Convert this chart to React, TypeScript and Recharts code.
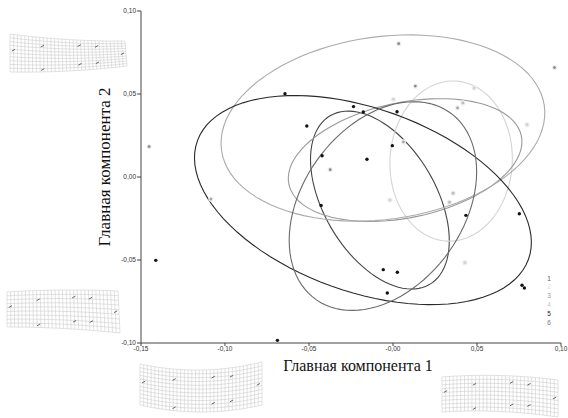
import React from 'react';
import { ScatterChart, Scatter, XAxis, YAxis, Customized } from 'recharts';

// ---- axes ----
const xTicks = [-0.15, -0.1, -0.05, 0, 0.05, 0.1];
const xTickLabels = ['-0,15', '-0,10', '-0,05', '-0,00', '0,05', '0,10'];
const yTicks = [0.1, 0.05, 0, -0.05, -0.1];
const yTickLabels = ['0,10', '0,05', '0,00', '-0,05', '-0,10'];
const xTitle = 'Главная компонента 1';
const yTitle = 'Главная компонента 2';

// ---- groups / legend ----
const groupNames = ['1', '2', '3', '4', '5', '6'];
const groupColors = ['#555555', '#dcdcdc', '#999999', '#c4c4c4', '#222222', '#777777'];

// ---- confidence ellipses (one per group) ----
const ellipseCx = [-0.0078, 0.0346, 0.0072, -0.006, -0.0179, -0.006];
const ellipseCy = [-0.0139, 0.0096, 0.0102, 0.0295, -0.0139, -0.0175];
const ellipseSemiMajor = [0.0588, 0.0483, 0.0707, 0.097, 0.1048, 0.069];
const ellipseSemiMinor = [0.0335, 0.0364, 0.0347, 0.055, 0.0551, 0.048];
const ellipseAngleDeg = [-60, 87, 12, 8, -20, 55];
const ellipseColors = ['#444444', '#d4d4d4', '#9a9a9a', '#ababab', '#2a2a2a', '#6a6a6a'];

// ---- specimens ----
const darkX = [-0.0643, -0.0235, -0.0177, 0.0024, -0.0513, -0.0004, -0.0422, -0.0155, -0.0428, 0.0434, 0.0752, -0.1412, -0.0058, 0.0026, -0.0034, 0.0768, 0.0782, -0.0688];
const darkY = [0.0502, 0.0424, 0.0392, 0.0393, 0.0307, 0.0189, 0.0128, 0.0107, -0.0171, -0.0231, -0.0221, -0.0502, -0.0558, -0.0574, -0.0699, -0.0652, -0.0669, -0.0984];

const grayX = [0.0034, 0.0961, 0.0133, 0.0483, 0.0002, 0.0384, 0.0416, -0.1452, 0.0062, -0.0374, -0.1084, -0.0018, 0.0358, 0.0336, 0.0798, 0.0428];
const grayY = [0.0803, 0.0659, 0.0548, 0.0536, 0.0468, 0.0416, 0.0446, 0.0183, 0.0211, 0.0044, -0.0133, -0.0139, -0.0098, -0.0152, 0.0315, -0.0516];
const grayShade = [0, 0, 0, 3, 3, 1, 2, 0, 1, 0, 1, 3, 2, 2, 3, 3];
const shadeColors = ['#8a8a8a', '#a8a8a8', '#bdbdbd', '#d2d2d2'];

const darkData = darkX.map((x, i) => ({ x, y: darkY[i] }));
const grayData = grayX.map((x, i) => ({ x, y: grayY[i], shade: grayShade[i] }));

const ELLIPSE_STEPS = 96;
function ellipseOutline(i: number) {
  const th = (ellipseAngleDeg[i] * Math.PI) / 180;
  const a = ellipseSemiMajor[i];
  const b = ellipseSemiMinor[i];
  const pts: { x: number; y: number }[] = [];
  for (let k = 0; k <= ELLIPSE_STEPS; k++) {
    const t = (2 * Math.PI * k) / ELLIPSE_STEPS;
    const ca = a * Math.cos(t);
    const sb = b * Math.sin(t);
    pts.push({
      x: ellipseCx[i] + ca * Math.cos(th) - sb * Math.sin(th),
      y: ellipseCy[i] + ca * Math.sin(th) + sb * Math.cos(th),
    });
  }
  return pts;
}

function labelFor(v: number, ticks: number[], labels: string[]) {
  const idx = ticks.findIndex((t) => Math.abs(t - v) < 1e-9);
  return idx >= 0 ? labels[idx] : String(v);
}

// ---- decorative deformation grids (thin-plate spline pictures) ----
type Pt = [number, number];
const landmarkUV: Pt[] = [
  [0.03, 0.42], [0.28, 0.25], [0.6, 0.18], [0.75, 0.2], [0.97, 0.5], [0.28, 0.93], [0.6, 0.8], [0.75, 0.78],
];
function WarpGrid({ tl, tr, bl, br, bend }: { tl: Pt; tr: Pt; bl: Pt; br: Pt; bend: number }) {
  const w = tr[0] - tl[0];
  const h = bl[1] - tl[1];
  const cols = Math.round(w / 3.7);
  const rows = Math.round(h / 3.7);
  const P = (u: number, v: number): Pt => {
    const x = (1 - v) * ((1 - u) * tl[0] + u * tr[0]) + v * ((1 - u) * bl[0] + u * br[0]);
    const y0 = (1 - v) * ((1 - u) * tl[1] + u * tr[1]) + v * ((1 - u) * bl[1] + u * br[1]);
    const y = y0 + bend * (1 - (2 * u - 1) * (2 * u - 1));
    return [x, y];
  };
  const lines: string[] = [];
  for (let r = 0; r <= rows; r++) {
    const v = r / rows;
    const seg: string[] = [];
    for (let c = 0; c <= cols; c++) {
      const p = P(c / cols, v);
      seg.push(`${p[0].toFixed(1)},${p[1].toFixed(1)}`);
    }
    lines.push('M' + seg.join('L'));
  }
  for (let c = 0; c <= cols; c++) {
    const u = c / cols;
    const seg: string[] = [];
    for (let r = 0; r <= rows; r++) {
      const p = P(u, r / rows);
      seg.push(`${p[0].toFixed(1)},${p[1].toFixed(1)}`);
    }
    lines.push('M' + seg.join('L'));
  }
  return (
    <g>
      <path d={lines.join(' ')} fill="none" stroke="#c4c4c4" strokeWidth={0.5} />
      {landmarkUV.map(([u, v], i) => {
        const p = P(u, v);
        return <line key={i} x1={p[0] - 1.6} y1={p[1] + 0.9} x2={p[0] + 1.6} y2={p[1] - 0.9} stroke="#555" strokeWidth={0.9} />;
      })}
    </g>
  );
}

function Decorations() {
  return (
    <g>
      <WarpGrid tl={[10, 34]} tr={[125, 41]} bl={[10, 72]} br={[127, 66]} bend={2} />
      <WarpGrid tl={[7, 292]} tr={[118, 291]} bl={[7, 327]} br={[120, 333]} bend={-1.5} />
      <WarpGrid tl={[140, 364]} tr={[262, 362]} bl={[140, 405]} br={[262, 405]} bend={7} />
      <WarpGrid tl={[442, 377]} tr={[558, 380]} bl={[442, 412]} br={[558, 417]} bend={-3} />
      <text x={358} y={371} textAnchor="middle" fontFamily="'Liberation Serif', serif" fontSize={16} fill="#111">{xTitle}</text>
      <text x={0} y={0} transform="translate(110,167) rotate(-90)" textAnchor="middle" fontFamily="'Liberation Serif', serif" fontSize={17} fill="#111">{yTitle}</text>
      {groupNames.map((g, i) => (
        <text key={g} x={549} y={280.5 + i * 8.8} textAnchor="middle" fontFamily="'Liberation Sans', Arial, sans-serif" fontSize={6.5} fill={groupColors[i]}>{g}</text>
      ))}
    </g>
  );
}

const tickStyle = { fontSize: 6.5, fill: '#333', fontFamily: "'Liberation Sans', Arial, sans-serif" };

export default function App() {
  return (
    <div style={{ position: 'absolute', left: 0, top: 0, width: 568, height: 418, background: '#fff' }}>
      <ScatterChart width={568} height={418} margin={{ top: 11, right: 7, bottom: 55, left: 111 }}>
        <XAxis
          type="number"
          dataKey="x"
          domain={[-0.15, 0.1]}
          ticks={xTicks}
          allowDataOverflow
          tickFormatter={(v: number) => labelFor(v, xTicks, xTickLabels)}
          height={20}
          tickSize={3}
          tickMargin={0}
          axisLine={{ stroke: '#444', strokeWidth: 1 }}
          tickLine={{ stroke: '#444' }}
          tick={tickStyle}
          interval={0}
        />
        <YAxis
          type="number"
          dataKey="y"
          domain={[-0.1, 0.1]}
          ticks={yTicks}
          allowDataOverflow
          tickFormatter={(v: number) => labelFor(v, yTicks, yTickLabels)}
          width={30}
          tickSize={4}
          tickMargin={1}
          axisLine={{ stroke: '#444', strokeWidth: 1 }}
          tickLine={{ stroke: '#444' }}
          tick={tickStyle}
          interval={0}
        />
        {groupNames.map((g, i) => (
          <Scatter
            key={'ell' + g}
            name={'ellipse ' + g}
            data={ellipseOutline(i)}
            line={{ stroke: ellipseColors[i], strokeWidth: 1.1 }}
            lineType="joint"
            shape={() => <g />}
            isAnimationActive={false}
            legendType="none"
          />
        ))}
        <Scatter
          name="gray"
          data={grayData}
          isAnimationActive={false}
          shape={(p: any) => (
            <g>
              <circle cx={p.cx} cy={p.cy} r={2.6} fill="#eeeeee" />
              <circle cx={p.cx} cy={p.cy} r={1.4} fill={shadeColors[p.payload?.shade ?? 0]} />
            </g>
          )}
        />
        <Scatter
          name="dark"
          data={darkData}
          isAnimationActive={false}
          shape={(p: any) => <circle cx={p.cx} cy={p.cy} r={1.7} fill="#111" />}
        />
        <Customized component={<Decorations />} />
      </ScatterChart>
    </div>
  );
}
